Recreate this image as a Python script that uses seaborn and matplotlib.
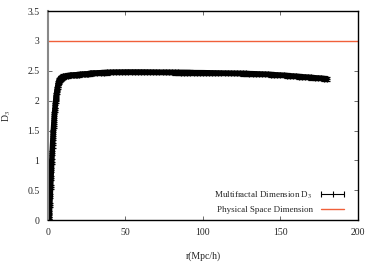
import matplotlib
matplotlib.use("Agg")
import matplotlib.pyplot as plt
from matplotlib.lines import Line2D
import seaborn as sns
import pandas as pd

r_vals = [
    0.25, 0.5, 0.75, 1.0, 1.25, 1.5, 1.75, 2.0, 2.25, 2.5, 2.75, 3.0, 3.25, 3.5, 3.75, 4.0, 4.25, 4.5, 4.75, 5.0,
    5.25, 5.5, 5.75, 6.0, 6.25, 6.5, 6.75, 7.0, 7.25, 7.5, 7.75, 8.0, 8.25, 8.5, 8.75, 9.0, 9.25, 9.5, 9.75,
    10, 11, 12, 13, 14, 15, 16, 17, 18, 19, 20, 21, 22, 23, 24, 25, 26, 27, 28, 29, 30,
    32, 34, 36, 38, 40, 42, 44, 46, 48, 50, 52, 54, 56, 58, 60, 62, 64, 66, 68, 70,
    72, 74, 76, 78, 80, 82, 84, 86, 88, 90, 92, 94, 96, 98, 100, 102, 104, 106, 108, 110,
    112, 114, 116, 118, 120, 122, 124, 126, 128, 130, 132, 134, 136, 138, 140, 142, 144, 146, 148, 150,
    152, 154, 156, 158, 160, 162, 164, 166, 168, 170, 172, 174, 176, 178, 180,
]
d3_vals = [
    0.0, 0.02, 0.06, 0.12, 0.25, 0.4, 0.55, 0.7, 0.84, 0.98, 1.12, 1.25, 1.37, 1.48, 1.58, 1.68, 1.77, 1.85, 1.92, 1.99,
    2.05, 2.1, 2.15, 2.19, 2.23, 2.26, 2.29, 2.31, 2.33, 2.34, 2.35, 2.36, 2.37, 2.375, 2.38, 2.385, 2.39, 2.395, 2.40,
    2.405, 2.41, 2.415, 2.42, 2.423, 2.425, 2.428, 2.43, 2.432, 2.435, 2.437, 2.44, 2.442, 2.444, 2.446, 2.448, 2.45, 2.455, 2.458, 2.46, 2.462,
    2.465, 2.468, 2.47, 2.472, 2.474, 2.475, 2.476, 2.477, 2.478, 2.478, 2.479, 2.479, 2.479, 2.479, 2.478, 2.478, 2.477, 2.476, 2.476, 2.475,
    2.475, 2.474, 2.474, 2.473, 2.473, 2.472, 2.472, 2.471, 2.471, 2.47, 2.47, 2.469, 2.469, 2.468, 2.468, 2.467, 2.466, 2.466, 2.465, 2.464,
    2.463, 2.462, 2.461, 2.46, 2.459, 2.458, 2.457, 2.456, 2.455, 2.453, 2.451, 2.449, 2.447, 2.445, 2.443, 2.44, 2.437, 2.434, 2.431, 2.428,
    2.424, 2.42, 2.416, 2.412, 2.408, 2.404, 2.4, 2.396, 2.392, 2.388, 2.384, 2.38, 2.375, 2.37, 2.365,
]
d3_err = 0.035
physical_dim = 3.0

df = pd.DataFrame({"r": r_vals, "D3": d3_vals})

sns.set_style("ticks")
plt.rcParams["font.family"] = ["Liberation Serif", "DejaVu Serif"]
plt.rcParams["mathtext.fontset"] = "stix"

fig = plt.figure(figsize=(3.74, 2.63), dpi=100)
ax = fig.add_axes([0.128, 0.163, 0.829, 0.795])

# thick band under the error bars, like the dense gnuplot points
sns.lineplot(data=df, x="r", y="D3", ax=ax, color="black", lw=4, sort=False)
ax.errorbar(df["r"], df["D3"], yerr=d3_err, fmt="+", color="black", ms=4, mew=0.9,
            elinewidth=0.9, capsize=2.0)
sns.lineplot(x=[0, 200], y=[physical_dim, physical_dim], ax=ax, color="#f0603a", lw=1.0)

ax.set_xlim(0, 200)
ax.set_ylim(0, 3.5)
ax.set_xticks([0, 50, 100, 150, 200])
ax.set_yticks([0, 0.5, 1, 1.5, 2, 2.5, 3, 3.5])
ax.set_yticklabels(["0", "0.5", "1", "1.5", "2", "2.5", "3", "3.5"])
ax.tick_params(direction="in", length=3, width=0.6, labelsize=7, top=True, right=True,
               color="#555555", pad=6)
for side in ["top", "right", "bottom"]:
    ax.spines[side].set_linewidth(1.0)
    ax.spines[side].set_color("black")
ax.spines["left"].set_linewidth(1.5)
ax.spines["left"].set_color("#888888")

ax.set_xlabel("r(Mpc/h)", fontsize=7, labelpad=10)
ax.set_ylabel("D$_3$", fontsize=7, labelpad=10)

handles = [
    Line2D([], [], color="black", lw=0.8, marker="|", ms=4, mew=0.8),
    Line2D([], [], color="#f0603a", lw=1.0),
]
labels = ["Multifractal Dimension D$_3$", "Physical Space Dimension"]
ax.legend(handles, labels, loc="lower right", frameon=False, fontsize=6.5, markerfirst=False,
          numpoints=3, handlelength=3.2, handletextpad=0.6, borderaxespad=0.3, labelspacing=0.55,
          bbox_to_anchor=(0.985, 0.0))

fig.savefig("out.png", dpi=100)
